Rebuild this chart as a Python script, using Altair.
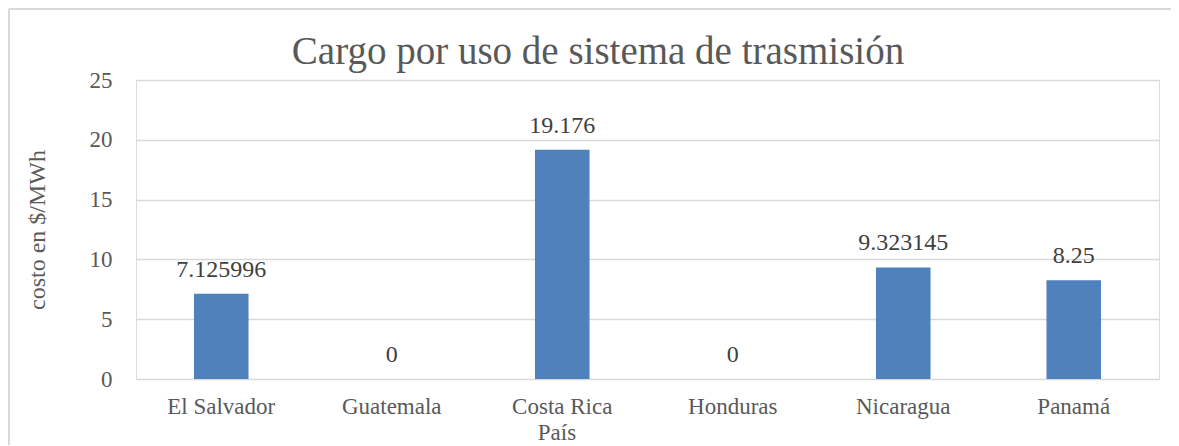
import altair as alt
import pandas as pd

paises = ["El Salvador", "Guatemala", "Costa Rica", "Honduras", "Nicaragua", "Panamá"]
valores = [7.125996, 0, 19.176, 0, 9.323145, 8.25]
etiquetas = ["7.125996", "0", "19.176", "0", "9.323145", "8.25"]
titulo = "Cargo por uso de sistema de trasmisión"
titulo_x = "País"
titulo_y = "costo en $/MWh"

df = pd.DataFrame({"pais": paises, "valor": valores, "etiqueta": etiquetas})
one = pd.DataFrame({"t": [titulo], "tx": [titulo_x]})

FONT = "Liberation Serif"
GREY = "#595959"

yscale = alt.Scale(domain=[0, 25], nice=False, zero=True)

x = alt.X("pais:N", sort=paises, title=None,
          axis=alt.Axis(labelAngle=0, labelFontSize=23, labelColor=GREY, labelFont=FONT,
                        labelPadding=16, domain=False, ticks=False),
          scale=alt.Scale(paddingInner=0.68, paddingOuter=0.34))
y = alt.Y("valor:Q", title=titulo_y, scale=yscale,
          axis=alt.Axis(values=[0, 5, 10, 15, 20, 25], labelFontSize=23, labelColor=GREY,
                        labelFont=FONT, labelPadding=24, titleFontSize=24, titleColor=GREY,
                        titleFont=FONT, titleFontWeight="normal", titlePadding=40,
                        domain=False, ticks=False, gridColor="#D9D9D9", gridWidth=1.5))

bars = alt.Chart(df).mark_bar(color="#4F81BD").encode(x=x, y=y)
labels = alt.Chart(df).mark_text(dy=-24, fontSize=24, font=FONT, color="#404040").encode(
    x=alt.X("pais:N", sort=paises), y=alt.Y("valor:Q", scale=yscale), text="etiqueta:N")

title_mark = alt.Chart(one).mark_text(fontSize=39, font=FONT, color=GREY, baseline="middle").encode(
    x=alt.value(462), y=alt.value(-28), text="t:N")
xtitle_mark = alt.Chart(one).mark_text(fontSize=23, font=FONT, color=GREY, baseline="middle").encode(
    x=alt.value(421), y=alt.value(353), text="tx:N")

border_left = alt.Chart(one).mark_rule(color="#D9D9D9", strokeWidth=2).encode(
    x=alt.value(-127), y=alt.value(-71), y2=alt.value(380))
border_top = alt.Chart(one).mark_rule(color="#D9D9D9", strokeWidth=2).encode(
    x=alt.value(-127), x2=alt.value(1040), y=alt.value(-71))

chart = alt.layer(bars, labels, title_mark, xtitle_mark, border_left, border_top).properties(
    width=1023, height=299,
    padding={"left": 128, "top": 72, "right": 12, "bottom": 66},
    autosize=alt.AutoSizeParams(type="none"),
).configure_view(stroke=None).configure(background="white")

chart.save("out.html", embed_options={"renderer": "svg", "actions": False})
